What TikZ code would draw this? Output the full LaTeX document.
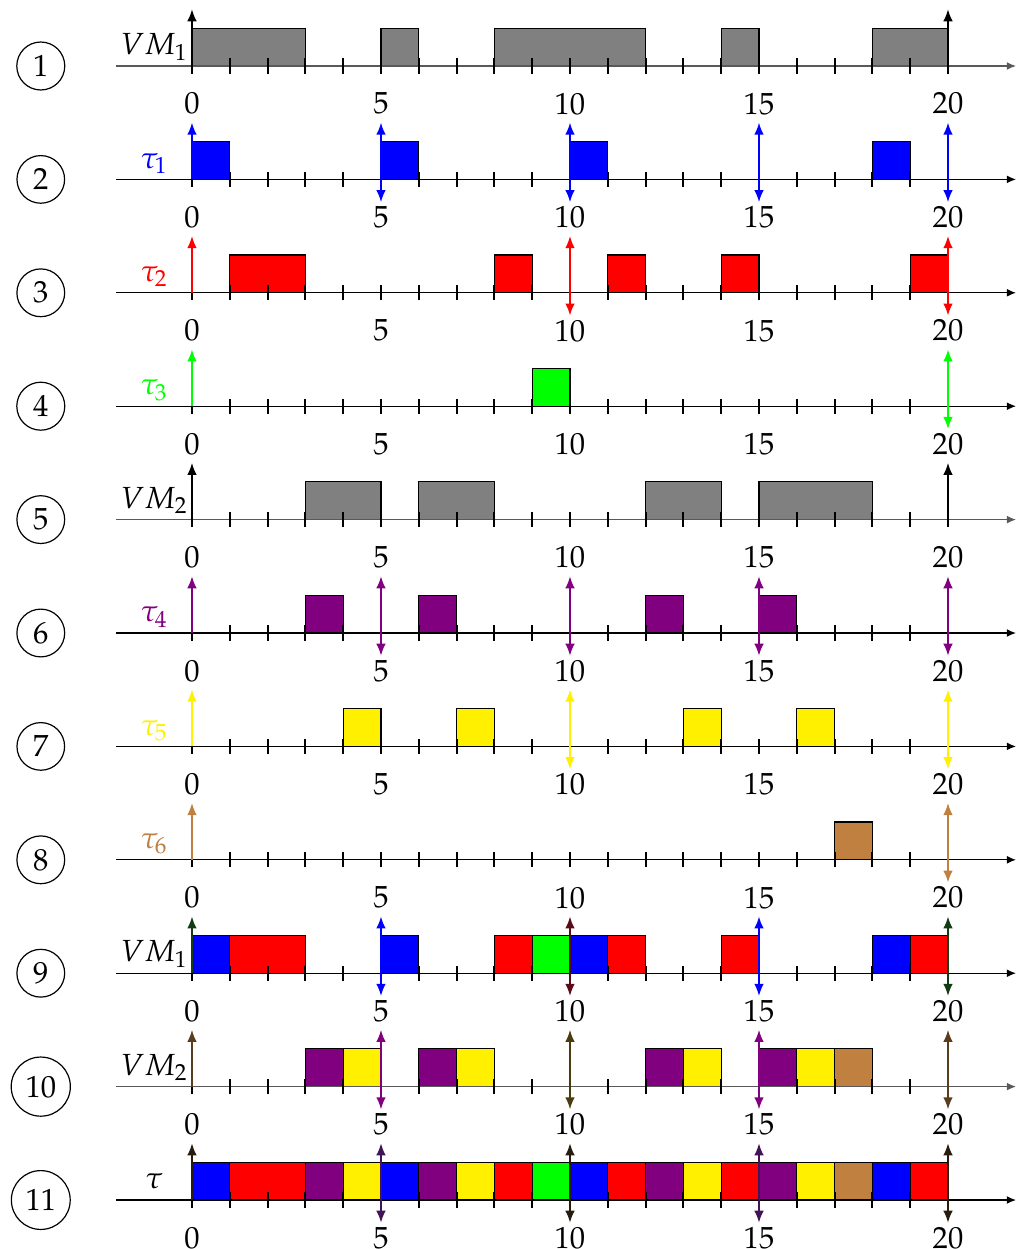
\documentclass[tikz,border=0pt]{standalone}
\usepackage[T1]{fontenc}
\usepackage{mathpazo}
\usetikzlibrary{arrows.meta}
\definecolor{tblue}{RGB}{0,0,255}
\definecolor{tred}{RGB}{255,0,0}
\definecolor{tgreen}{RGB}{0,255,0}
\definecolor{tpurple}{RGB}{128,0,128}
\definecolor{tyellow}{RGB}{255,240,0}
\definecolor{tbrown}{RGB}{191,128,64}
\definecolor{tgray}{RGB}{128,128,128}
\definecolor{mixA}{RGB}{20,60,20}
\definecolor{mixB}{RGB}{90,10,25}
\definecolor{mixC}{RGB}{90,60,30}
\definecolor{mixD}{RGB}{75,60,15}
\definecolor{mixE}{RGB}{40,28,15}
\definecolor{mixF}{RGB}{65,20,85}
\tikzset{
  jobbox/.style={draw=black, line width=0.4pt},
  tickmark/.style={line width=0.8pt},
  axisline/.style={line width=0.5pt, -{Latex[length=3.5pt,width=3pt]}},
  relarrow/.style={line width=0.6pt, -{Latex[length=4.5pt,width=3.6pt]}},
  rowlabel/.style={anchor=base},
  circnum/.style={draw, circle, inner sep=2.9pt, line width=0.45pt},
  ticklabel/.style={inner sep=0pt}
}
\newcommand\myaxis[3]{% #1 = y, #2 = axis colour, #3 = row number
  \coordinate (axs#3) at (-2,#1);
  \coordinate (axe#3) at (21.8,#1);
  \draw[axisline, #2] (axs#3) -- (axe#3);
  \foreach \t in {0,...,20} \draw[tickmark] (\t,#1-0.2) -- (\t,#1+0.2);
  \foreach \t in {0,5,10,15,20} \node[ticklabel] (lab#3-\t) at (\t,#1-1) {$\t$};
  \node[circnum] (row#3) at (-4,#1) {$#3$};
}
\newcommand\jobs[3]{% #1 = y, #2 = colour, #3 = list a/b
  \foreach \a/\b in {#3} \draw[jobbox, fill=#2] (\a,#1) rectangle (\b,#1+1);
}
\newcommand\uparr[3]{% #1 = y, #2 = colour, #3 = list of times
  \foreach \t in {#3} \draw[relarrow, #2] (\t,#1) -- (\t,#1+1.5);
}
\newcommand\downarr[3]{%
  \foreach \t in {#3} \draw[relarrow, #2] (\t,#1) -- (\t,#1-0.6);
}
\begin{document}
\begin{tikzpicture}[x=0.5cm, y=0.5cm, font=\fontsize{11.5}{14}\selectfont]
\useasboundingbox (-5.079,-31.296) rectangle (21.878,1.746);

% Row 1: VM1
\jobs{0}{tgray}{0/3,5/6,8/12,14/15,18/20}
\myaxis{0}{black!65}{1}
\uparr{0}{black}{0,20}
\node[rowlabel] (n1) at (-1,0.3) {$VM_1$};

% Row 2: tau1
\jobs{-3}{tblue}{0/1,5/6,10/11,18/19}
\myaxis{-3}{black}{2}
\uparr{-3}{tblue}{0,5,10,15,20}
\downarr{-3}{tblue}{5,10,15,20}
\node[rowlabel, text=tblue] (n2) at (-1,-2.7) {$\tau_1$};

% Row 3: tau2
\jobs{-6}{tred}{1/3,8/9,11/12,14/15,19/20}
\myaxis{-6}{black}{3}
\uparr{-6}{tred}{0,10,20}
\downarr{-6}{tred}{10,20}
\node[rowlabel, text=tred] (n3) at (-1,-5.7) {$\tau_2$};

% Row 4: tau3
\jobs{-9}{tgreen}{9/10}
\myaxis{-9}{black}{4}
\uparr{-9}{tgreen}{0,20}
\downarr{-9}{tgreen}{20}
\node[rowlabel, text=tgreen] (n4) at (-1,-8.7) {$\tau_3$};

% Row 5: VM2
\jobs{-12}{tgray}{3/5,6/8,12/14,15/18}
\myaxis{-12}{black!65}{5}
\uparr{-12}{black}{0,20}
\node[rowlabel] (n5) at (-1,-11.7) {$VM_2$};

% Row 6: tau4
\jobs{-15}{tpurple}{3/4,6/7,12/13,15/16}
\myaxis{-15}{black}{6}
\uparr{-15}{tpurple}{0,5,10,15,20}
\downarr{-15}{tpurple}{5,10,15,20}
\node[rowlabel, text=tpurple] (n6) at (-1,-14.7) {$\tau_4$};

% Row 7: tau5
\jobs{-18}{tyellow}{4/5,7/8,13/14,16/17}
\myaxis{-18}{black}{7}
\uparr{-18}{tyellow}{0,10,20}
\downarr{-18}{tyellow}{10,20}
\node[rowlabel, text=tyellow] (n7) at (-1,-17.7) {$\tau_5$};

% Row 8: tau6
\jobs{-21}{tbrown}{17/18}
\myaxis{-21}{black}{8}
\uparr{-21}{tbrown}{0,20}
\downarr{-21}{tbrown}{20}
\node[rowlabel, text=tbrown] (n8) at (-1,-20.7) {$\tau_6$};

% Row 9: VM1 schedule
\jobs{-24}{tblue}{0/1,5/6,10/11,18/19}
\jobs{-24}{tred}{1/3,8/9,11/12,14/15,19/20}
\jobs{-24}{tgreen}{9/10}
\myaxis{-24}{black}{9}
\uparr{-24}{mixA}{0,20}
\uparr{-24}{tblue}{5,15}
\uparr{-24}{mixB}{10}
\downarr{-24}{tblue}{5,15}
\downarr{-24}{mixB}{10}
\downarr{-24}{mixA}{20}
\node[rowlabel] (n9) at (-1,-23.7) {$VM_1$};

% Row 10: VM2 schedule
\jobs{-27}{tpurple}{3/4,6/7,12/13,15/16}
\jobs{-27}{tyellow}{4/5,7/8,13/14,16/17}
\jobs{-27}{tbrown}{17/18}
\myaxis{-27}{black!65}{10}
\uparr{-27}{mixC}{0,20}
\uparr{-27}{tpurple}{5,15}
\uparr{-27}{mixD}{10}
\downarr{-27}{tpurple}{5,15}
\downarr{-27}{mixD}{10}
\downarr{-27}{mixC}{20}
\node[rowlabel] (n10) at (-1,-26.7) {$VM_2$};

% Row 11: global schedule
\jobs{-30}{tblue}{0/1,5/6,10/11,18/19}
\jobs{-30}{tred}{1/3,8/9,11/12,14/15,19/20}
\jobs{-30}{tgreen}{9/10}
\jobs{-30}{tpurple}{3/4,6/7,12/13,15/16}
\jobs{-30}{tyellow}{4/5,7/8,13/14,16/17}
\jobs{-30}{tbrown}{17/18}
\myaxis{-30}{black}{11}
\uparr{-30}{mixE}{0,10,20}
\uparr{-30}{mixF}{5,15}
\downarr{-30}{mixF}{5,15}
\downarr{-30}{mixE}{10,20}
\node[rowlabel] (n11) at (-1,-29.7) {$\tau$};
\end{tikzpicture}
\end{document}
